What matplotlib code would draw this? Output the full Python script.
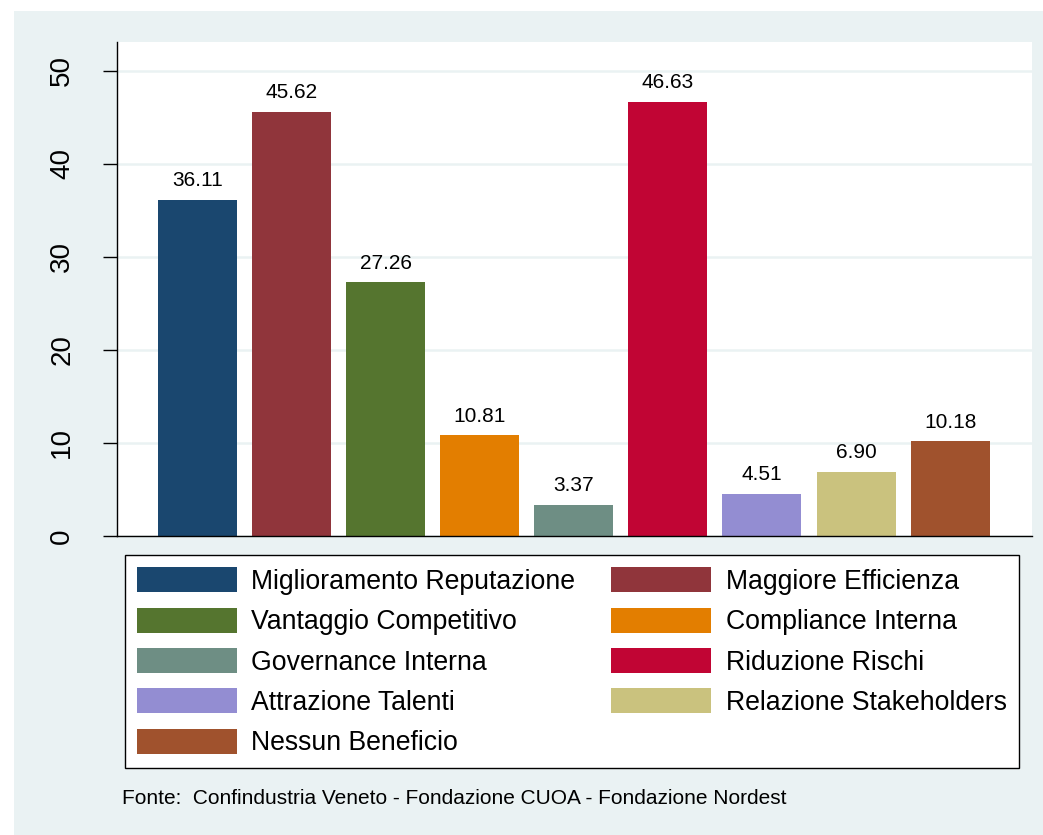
import matplotlib
matplotlib.use("Agg")
import matplotlib.pyplot as plt
from matplotlib.patches import Rectangle
import numpy as np

plt.rcParams['font.family'] = ['Liberation Sans', 'DejaVu Sans']

categories = ['Miglioramento Reputazione', 'Maggiore Efficienza', 'Vantaggio Competitivo',
              'Compliance Interna', 'Governance Interna', 'Riduzione Rischi',
              'Attrazione Talenti', 'Relazione Stakeholders', 'Nessun Beneficio']
values = [36.11, 45.62, 27.26, 10.81, 3.37, 46.63, 4.51, 6.90, 10.18]
colors = ['#1A476F', '#90353B', '#55752F', '#E37E00', '#6E8E84',
          '#C10534', '#938DD2', '#CAC27E', '#A0522D']
yticks = [0, 10, 20, 30, 40, 50]
source = 'Fonte:  Confindustria Veneto - Fondazione CUOA - Fondazione Nordest'

W, H = 1043, 835
fig = plt.figure(figsize=(W / 100, H / 100), dpi=100, facecolor='white')
# light outer region (Stata s2color style)
fig.patches.append(Rectangle((14 / W, 0), 1 - 14 / W, 1 - 11 / H,
                             transform=fig.transFigure, facecolor='#EAF2F3',
                             edgecolor='none', zorder=-10))

ax = fig.add_axes([117 / W, 1 - 536 / H, (1032 - 117) / W, (536 - 42) / H])
ax.set_facecolor('white')

x = np.arange(len(values))
bars = ax.bar(x, values, width=0.84, color=colors, zorder=2)
ax.bar_label(bars, fmt='%.2f', padding=7, fontsize=15)

ax.set_xlim(-0.855, len(values) - 1 + 0.87)
ax.set_ylim(0, 53.1)
ax.set_yticks(yticks)
ax.set_yticklabels([str(v) for v in yticks], rotation=90, va='center', fontsize=20)
ax.tick_params(axis='y', length=10, width=1, pad=20)
ax.set_xticks([])
ax.yaxis.grid(True, color='#EAF2F3', linewidth=1.8)
ax.set_axisbelow(True)
for s in ['top', 'right']:
    ax.spines[s].set_visible(False)
for s in ['left', 'bottom']:
    ax.spines[s].set_linewidth(1)
    ax.spines[s].set_color('black')

order = [0, 2, 4, 6, 8, 1, 3, 5, 7]
leg = fig.legend([bars[i] for i in order], [categories[i] for i in order],
                 ncol=2, loc='upper left', bbox_to_anchor=(125 / W, 1 - 555 / H),
                 fontsize=19.2, handlelength=3.75, handleheight=1.06,
                 handletextpad=0.53, columnspacing=1.35, labelspacing=0.48,
                 borderpad=0.46, borderaxespad=0, fancybox=False, framealpha=1,
                 edgecolor='black', facecolor='white')
leg.get_frame().set_linewidth(1)

fig.text(122 / W, 1 - 798 / H, source, fontsize=15, va='center', ha='left')

fig.savefig('out.png', dpi=100, facecolor=fig.get_facecolor())
